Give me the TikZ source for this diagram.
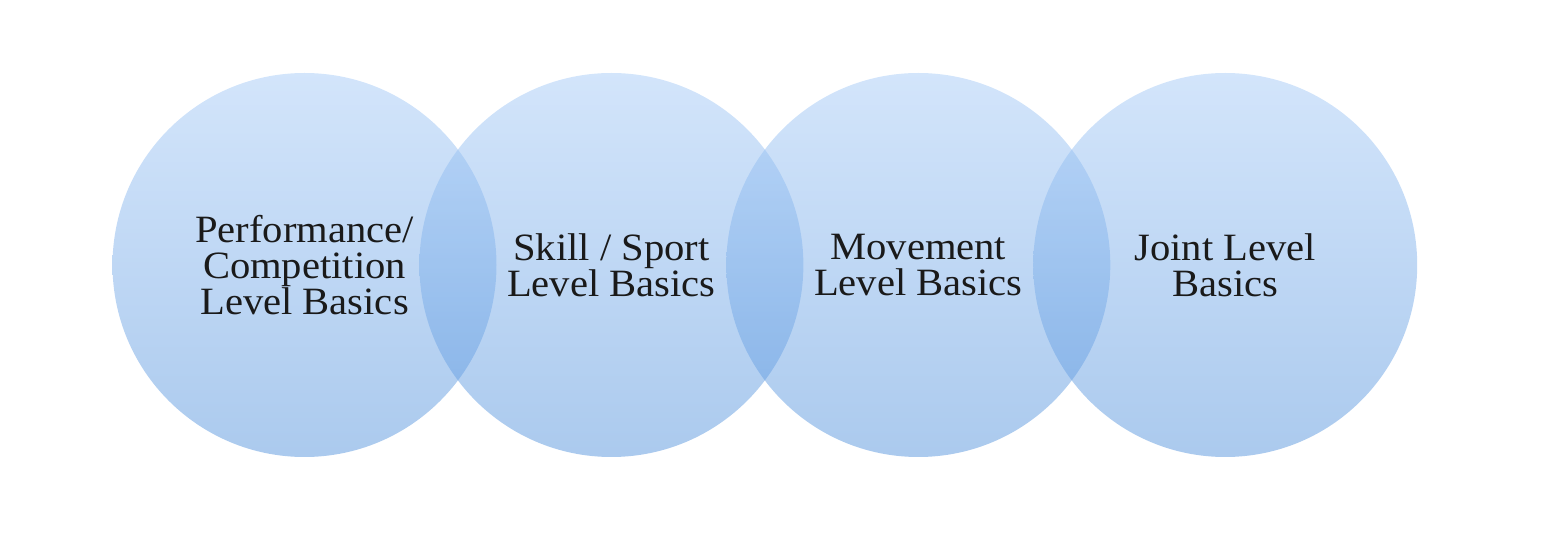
\documentclass[tikz,border=0pt]{standalone}
\usepackage{fontspec}
\usepackage{tikz}
\usepackage{xcolor}
\usetikzlibrary{positioning}
\setmainfont{Liberation Serif}[FakeStretch=1.05]
\definecolor{bubbletop}{HTML}{A7CBF7}
\definecolor{bubblebottom}{HTML}{5795DD}
\definecolor{textink}{HTML}{1A1A1A}

\begin{document}
\begin{tikzpicture}[
    node distance=-7.85mm,
    bubble/.style={circle, minimum size=3.84cm, inner sep=0pt, align=center,
        top color=bubbletop, bottom color=bubblebottom, fill opacity=0.5,
        text opacity=1, text=textink, font=\fontsize{11}{10.2}\selectfont}
]
\useasboundingbox (0,0) rectangle (15.66,5.54);
\node[bubble] (perf) at (3.045,2.89) {Performance/\\Competition\\Level Basics};
\node[bubble, right=of perf] (skill) {Skill / Sport\\Level Basics};
\node[bubble, right=of skill] (move) {Movement\\Level Basics};
\node[bubble, right=of move] (joint) {Joint Level\\Basics};
\end{tikzpicture}
\end{document}
